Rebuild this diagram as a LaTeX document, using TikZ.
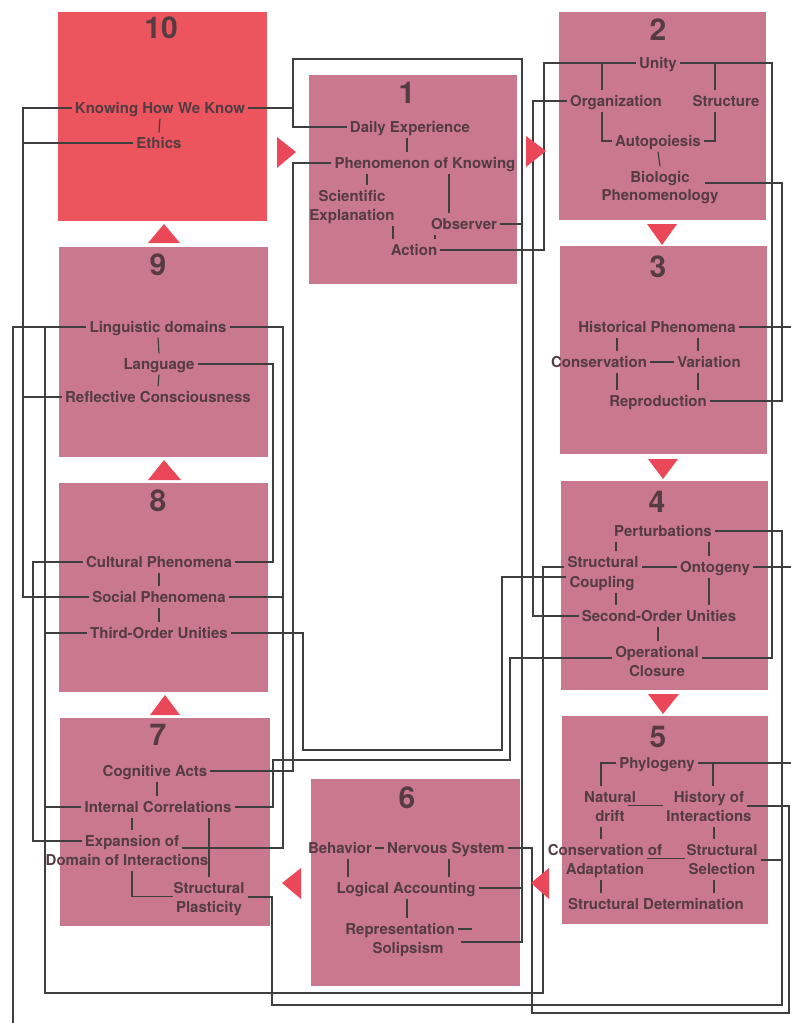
\documentclass[tikz,border=0pt]{standalone}
\usepackage{fontspec}
\setmainfont{TeX Gyre Heros}
\definecolor{mauve}{RGB}{202,120,142}
\definecolor{tenred}{RGB}{236,84,94}
\definecolor{trired}{RGB}{234,72,88}
\definecolor{inkc}{RGB}{84,60,66}
\definecolor{wirec}{RGB}{62,62,62}

\begin{document}
\begin{tikzpicture}[x=1pt, y=-1pt,
  lbl/.style={font=\fontsize{15}{18}\selectfont\bfseries, text=inkc, text height=10.8pt, text depth=0pt, inner xsep=3pt, inner ysep=5pt},
  num/.style={font=\fontsize{30}{32}\selectfont\bfseries, text=inkc, text height=21pt, text depth=0pt, inner sep=0pt},
  wire/.style={draw=wirec, line width=1.2pt},
  box/.style={fill=mauve},
  tri/.style={fill=trired}]
\useasboundingbox (0,0) rectangle (791,1023);
\fill[white] (0,0) rectangle (791,1023);

% boxes
\fill[tenred] (58,12) rectangle (267,221);
\fill[box] (309,75) rectangle (517,284);
\fill[box] (559,12) rectangle (766,220);
\fill[box] (560,246) rectangle (767,454);
\fill[box] (561,481) rectangle (768,690);
\fill[box] (562,716) rectangle (768,924);
\fill[box] (311,779) rectangle (520,986);
\fill[box] (60,718) rectangle (270,926);
\fill[box] (59,483) rectangle (268,692);
\fill[box] (59,247) rectangle (268,457);

% box 10
\node[num] (n10) at (161,28) {10};
\node[lbl] (knowing) at (160,108) {Knowing How We Know};
\node[lbl] (ethics) at (159,143) {Ethics};

% box 1
\node[num] (n1) at (407,93) {1};
\node[lbl] (daily) at (410,127) {Daily Experience};
\node[lbl] (phen) at (425,163) {Phenomenon of Knowing};
\node[lbl] (scient) at (352,196) {Scientific};
\node[lbl] (explan) at (352,215) {Explanation};
\node[lbl] (observer) at (464,224) {Observer};
\node[lbl] (action) at (414,250) {Action};

% box 2
\node[num] (n2) at (658,30) {2};
\node[lbl] (unity) at (658,63) {Unity};
\node[lbl] (organ) at (616,101) {Organization};
\node[lbl] (struct) at (726,101) {Structure};
\node[lbl] (autop) at (658,141) {Autopoiesis};
\node[lbl] (biol) at (660,177) {Biologic};
\node[lbl] (phenom) at (660,195) {Phenomenology};

% box 3
\node[num] (n3) at (658,267) {3};
\node[lbl] (hist) at (657,327) {Historical Phenomena};
\node[lbl] (conserv) at (599,362) {Conservation};
\node[lbl] (variat) at (709,362) {Variation};
\node[lbl] (reprod) at (658,401) {Reproduction};

% box 4
\node[num] (n4) at (657,502) {4};
\node[lbl] (perturb) at (663,531) {Perturbations};
\node[lbl] (scoup) at (603,562) {Structural};
\node[lbl] (coupling) at (602,582) {Coupling};
\node[lbl] (ontog) at (715,567) {Ontogeny};
\node[lbl] (second) at (659,616) {Second-Order Unities};
\node[lbl] (operat) at (657,652) {Operational};
\node[lbl] (closure) at (657,671) {Closure};

% box 5
\node[num] (n5) at (658,737) {5};
\node[lbl] (phylo) at (657,763) {Phylogeny};
\node[lbl] (natural) at (610,797) {Natural};
\node[lbl] (drift) at (610,816) {drift};
\node[lbl] (histof) at (709,797) {History of};
\node[lbl] (interact) at (709,816) {Interactions};
\node[lbl] (conservof) at (605,850) {Conservation of};
\node[lbl] (adapt) at (605,869) {Adaptation};
\node[lbl] (sstruct) at (722,850) {Structural};
\node[lbl] (select) at (722,869) {Selection};
\node[lbl] (determ) at (656,904) {Structural Determination};

% box 6
\node[num] (n6) at (407,798) {6};
\node[lbl] (behav) at (340,848) {Behavior};
\node[lbl] (nervous) at (446,848) {Nervous System};
\node[lbl] (logical) at (406,888) {Logical Accounting};
\node[lbl] (repres) at (400,929) {Representation};
\node[lbl] (solip) at (408,948) {Solipsism};

% box 7
\node[num] (n7) at (158,735) {7};
\node[lbl] (cognit) at (155,771) {Cognitive Acts};
\node[lbl] (internal) at (158,807) {Internal Correlations};
\node[lbl] (expans) at (132,841) {Expansion of};
\node[lbl] (domain) at (127,860) {Domain of Interactions};
\node[lbl] (plastA) at (209,888) {Structural};
\node[lbl] (plastB) at (209,907) {Plasticity};

% box 8
\node[num] (n8) at (158,501) {8};
\node[lbl] (cultur) at (159,562) {Cultural Phenomena};
\node[lbl] (social) at (159,597) {Social Phenomena};
\node[lbl] (third) at (159,633) {Third-Order Unities};

% box 9
\node[num] (n9) at (158,265) {9};
\node[lbl] (ling) at (158,327) {Linguistic domains};
\node[lbl] (langu) at (159,364) {Language};
\node[lbl] (reflect) at (158,397) {Reflective Consciousness};

% links inside the boxes
\draw[wire] (knowing.south) -- (ethics.north);
\draw[wire] (daily.south -| 407,0) -- (phen.north -| 407,0);
\draw[wire] (phen.south -| 367,0) -- (scient.north -| 367,0);
\draw[wire] (phen.south -| 449,0) -- (observer.north -| 449,0);
\draw[wire] (explan.south -| 393,0) -- (action.north -| 393,0);
\draw[wire] (observer.south -| 435,0) -- (action.north -| 435,0);

\draw[wire] (unity.west -| 602,0) -- (organ.north -| 602,0);
\draw[wire] (unity.east -| 715,0) -- (struct.north -| 715,0);
\draw[wire] (organ.south -| 602,0) |- (autop.west);
\draw[wire] (struct.south -| 715,0) |- (autop.east);
\draw[wire] (autop.south) -- (biol.north);

\draw[wire] (hist.south -| 617,0) -- (conserv.north -| 617,0);
\draw[wire] (hist.south -| 698,0) -- (variat.north -| 698,0);
\draw[wire] (conserv.east) -- (variat.west);
\draw[wire] (conserv.south -| 617,0) -- (reprod.north -| 617,0);
\draw[wire] (variat.south -| 698,0) -- (reprod.north -| 698,0);

\draw[wire] (perturb.south -| 616,0) -- (scoup.north -| 616,0);
\draw[wire] (perturb.south -| 709,0) -- (ontog.north -| 709,0);
\draw[wire] (scoup.east |- ontog.west) -- (ontog.west);
\draw[wire] (coupling.south -| 616,0) -- (second.north -| 616,0);
\draw[wire] (ontog.south -| 709,0) -- (second.north -| 709,0);
\draw[wire] (second.south -| 658,0) -- (operat.north -| 658,0);

\draw[wire] (phylo.west) -| (natural.north -| 601,0);
\draw[wire] (phylo.east -| 713,0) -- (histof.north -| 713,0);
\draw[wire] (drift.north east) -- (interact.north west);
\draw[wire] (drift.south -| 601,0) -- (conservof.north -| 601,0);
\draw[wire] (interact.south -| 714,0) -- (sstruct.north -| 714,0);
\draw[wire] (adapt.north east) -- (select.north west);
\draw[wire] (adapt.south -| 601,0) -- (determ.north -| 601,0);
\draw[wire] (select.south -| 714,0) -- (determ.north -| 714,0);

\draw[wire] (behav.east) -- (nervous.west);
\draw[wire] (behav.south -| 348,0) -- (logical.north -| 348,0);
\draw[wire] (nervous.south -| 449,0) -- (logical.north -| 449,0);
\draw[wire] (logical.south -| 407,0) -- (repres.north -| 407,0);
\draw[wire] (repres.east) -- ++(14,0);

\draw[wire] (cognit.south -| 157,0) -- (internal.north -| 157,0);
\draw[wire] (internal.south -| 132,0) -- (expans.north -| 132,0);
\draw[wire] (internal.south -| 209,0) -- (plastA.north -| 209,0);
\draw[wire] (domain.south -| 132,0) |- (plastB.north west);

\draw[wire] (cultur.south) -- (social.north);
\draw[wire] (social.south) -- (third.north);
\draw[wire] (ling.south) -- (langu.north);
\draw[wire] (langu.south) -- (reflect.north);

% ends of the long connectors
\coordinate (biolE) at ([xshift=12pt,yshift=-6pt]biol.east);
\coordinate (operW) at ([yshift=-6pt]operat.west);
\coordinate (operE) at ([yshift=-6pt]operat.east);
\coordinate (coupW) at ([yshift=5pt]coupling.west);
\coordinate (scoupW) at ([yshift=-5pt]scoup.west);
\coordinate (selE) at ([yshift=-10pt]sstruct.east);
\coordinate (histE) at ([yshift=-9pt]histof.east);
\coordinate (plastE) at ([yshift=-9pt]plastA.east);
\coordinate (expE) at ([yshift=-7pt]expans.east);
\coordinate (solE) at ([xshift=14pt,yshift=6pt]solip.east);
\coordinate (edge) at (791,0);

% long connectors
\draw[wire] (knowing.west) -| (social.west -| 23,0) -- (social.west);
\draw[wire] (ethics.west) -- (ethics.west -| 23,0);
\draw[wire] (reflect.west) -- (reflect.west -| 23,0);
\draw[wire] (ling.west) -- (ling.west -| 13,0) -- (13,1023);
\draw[wire] (scoupW) -| (543,993) -| (ling.west -| 45,0);
\draw[wire] (third.west) -- (third.west -| 45,0);
\draw[wire] (internal.west) -- (internal.west -| 45,0);
\draw[wire] (cultur.west) -| (expans.west -| 33,0) -- (expans.west);
\draw[wire] (ling.east) -| (expE -| 283,0) -- (expE);
\draw[wire] (social.east) -- (social.east -| 283,0);
\draw[wire] (langu.east) -| (cultur.east -| 273,0) -- (cultur.east);
\draw[wire] (third.east) -| (303,750) -| (coupW -| 502,0) -- (coupW);
\draw[wire] (phen.west) -| (cognit.east -| 293,0) -- (cognit.east);
\draw[wire] (internal.east) -| (273,760) -| (operW -| 510,0) -- (operW);
\draw[wire] (plastE) -| (272,1005) -| (perturb.east -| 782,0) -- (perturb.east);
\draw[wire] (selE) -- (selE -| 782,0);
\draw[wire] (nervous.east) -| (532,1013) -| (histE -| 789,0) -- (histE);
\draw[wire] (phylo.east) -- (phylo.east -| edge);
\draw[wire] (ontog.east) -- (ontog.east -| edge);
\draw[wire] (hist.east) -- (hist.east -| edge);
\draw[wire] (unity.east) -| (operE -| 772,0) -- (operE);
\draw[wire] (action.east) -| (unity.west -| 544,0) -- (unity.west);
\draw[wire] (organ.west) -| (second.west -| 533,0) -- (second.west);
\draw[wire] (biolE) -| (reprod.east -| 782,0) -- (reprod.east);
\draw[wire] (daily.west) -| (293,59) -| (solE -| 522,0) -- (solE);
\draw[wire] (knowing.east) -- (knowing.east -| 293,0);
\draw[wire] (observer.east) -- (observer.east -| 522,0);
\draw[wire] (logical.east) -- (logical.east -| 522,0);

% arrows between the boxes
\fill[tri] (148,243) -- (180,243) -- (164,224) -- cycle;
\fill[tri] (148,480) -- (181,480) -- (164,460) -- cycle;
\fill[tri] (150,715) -- (180,715) -- (165,695) -- cycle;
\fill[tri] (277,137) -- (277,168) -- (296,152) -- cycle;
\fill[tri] (526,136) -- (526,167) -- (546,151) -- cycle;
\fill[tri] (647,224) -- (677,224) -- (662,245) -- cycle;
\fill[tri] (648,459) -- (678,459) -- (663,479) -- cycle;
\fill[tri] (648,694) -- (679,694) -- (663,714) -- cycle;
\fill[tri] (549,868) -- (549,899) -- (531,883) -- cycle;
\fill[tri] (301,868) -- (301,899) -- (282,883) -- cycle;
\end{tikzpicture}
\end{document}
